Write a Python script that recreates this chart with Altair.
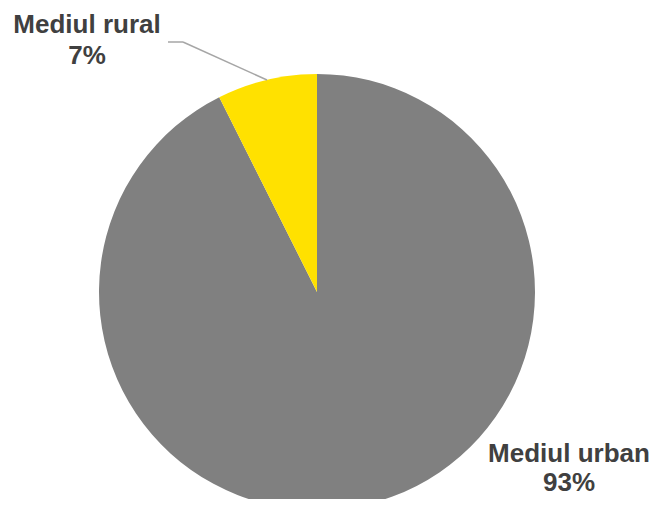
import altair as alt
import pandas as pd

categories = ["Mediul urban", "Mediul rural"]
values = [92.6, 7.4]
labels = ["93%", "7%"]
colors = ["#808080", "#FFE100"]

df = pd.DataFrame({"cat": categories, "val": values, "lab": labels,
                   "ord": list(range(len(categories)))})
df["text"] = df["cat"] + "\n" + df["lab"]

base = alt.Chart(df)

pie = base.mark_arc(radius=218, stroke=None).encode(
    theta=alt.Theta("val:Q", stack=True),
    order=alt.Order("ord:Q"),
    color=alt.Color("cat:N", scale=alt.Scale(domain=categories, range=colors), legend=None),
    x=alt.value(309),
    y=alt.value(284),
)

def label(cat, x, y, lh):
    return base.transform_filter(alt.datum.cat == cat).mark_text(
        font="Liberation Sans", fontSize=26, fontWeight="bold", color="#404040",
        align="center", baseline="alphabetic", lineBreak="\n", lineHeight=lh,
    ).encode(text="text:N", x=alt.value(x), y=alt.value(y))

rural_lab = label("Mediul rural", 79, 25, 31)
urban_lab = label("Mediul urban", 561, 454, 29)

lead1 = base.transform_filter(alt.datum.cat == "Mediul rural").mark_rule(
    color="#A6A6A6", strokeWidth=1.5).encode(
    x=alt.value(160), x2=alt.value(175), y=alt.value(34), y2=alt.value(34))
lead2 = base.transform_filter(alt.datum.cat == "Mediul rural").mark_rule(
    color="#A6A6A6", strokeWidth=1.5).encode(
    x=alt.value(175), x2=alt.value(259), y=alt.value(34), y2=alt.value(72))

chart = alt.layer(pie, lead1, lead2, rural_lab, urban_lab).properties(
    width=642, height=491, padding=0,
    autosize=alt.AutoSizeParams(type="none"),
).configure_view(stroke=None)

chart.save("out.html", embed_options={"renderer": "svg", "actions": False})
